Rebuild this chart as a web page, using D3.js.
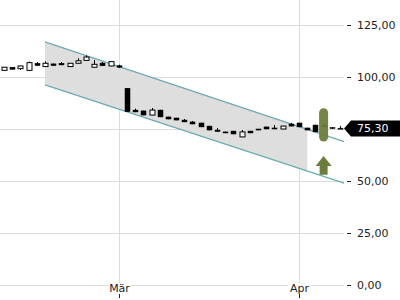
<!DOCTYPE html>
<html>
<head>
<meta charset="utf-8">
<script src="https://cdn.jsdelivr.net/npm/d3@7"></script>
<style>
  body { margin: 0; background: #fff; }
  svg { display: block; font-family: "DejaVu Sans", sans-serif; }
</style>
</head>
<body>
<div id="chart"></div>
<script>
'use strict';

// daily candles, oldest first
const opens  = [103.2, 104.7, 104.0, 103.2, 106.6, 105.0, 106.3, 106.6, 105.0, 106.6, 108.0, 104.7, 106.7, 105.3,
                105.4, 94.6, 84.1, 83.7, 81.7, 84.1, 80.8, 80.3, 79.3, 78.4, 77.9, 76.4, 74.5, 73.6, 74.0, 71.2,
                74.0, 75.0, 76.0, 75.5, 75.0, 77.4, 77.9, 75.5, 76.9, 76.9, 75.7, 75.4];
const highs  = [104.8, 104.8, 105.4, 107.4, 107.2, 107.5, 106.5, 107.2, 106.7, 109.0, 110.4, 108.2, 107.2, 107.5,
                105.9, 94.7, 84.8, 83.8, 85.1, 84.2, 80.9, 80.4, 79.8, 78.8, 78.0, 76.5, 75.5, 73.7, 74.1, 74.5,
                74.1, 75.1, 76.1, 76.9, 76.5, 77.9, 78.0, 75.6, 77.0, 77.9, 75.8, 76.5];
const lows   = [103.1, 103.6, 103.4, 103.1, 105.4, 104.9, 105.4, 105.7, 104.9, 106.5, 107.9, 104.6, 105.3, 105.2,
                104.3, 83.2, 83.1, 81.6, 81.6, 80.7, 79.7, 79.2, 78.3, 77.3, 75.9, 74.4, 73.7, 73.0, 72.5, 71.1,
                73.0, 74.4, 74.9, 74.9, 74.9, 76.3, 75.9, 74.4, 73.5, 75.9, 75.2, 75.2];
const closes = [104.7, 103.7, 105.3, 106.9, 105.5, 106.6, 105.5, 105.8, 106.6, 107.8, 109.6, 106.1, 105.4, 107.4,
                104.7, 83.3, 83.2, 81.7, 84.1, 80.8, 79.8, 79.3, 78.4, 77.4, 76.0, 74.5, 73.8, 73.1, 72.6, 73.6,
                73.1, 74.5, 75.0, 75.0, 76.4, 76.4, 76.0, 74.5, 73.6, 76.0, 75.3, 75.3];

const monthLabels = ["Mär", "Apr"];
const monthStart  = [14, 36];          // candle index of first trading day
const yTicks = [0, 25, 50, 75, 100, 125];
const lastPrice = 75.30;

// trend channel (index, value)
const channelIdx    = [5, 41.5];
const channelTop    = [116.9, 68.9];
const channelBottom = [96.2, 49.0];
const channelShadeEnd = 37;

// signal marker
const signalIdx = 39;
const signalBar = [69, 85];
const signalArrow = [53, 62];

const W = 400, H = 300;
const candles = opens.map((o, i) => ({ i, o, h: highs[i], l: lows[i], c: closes[i] }));

const x = d3.scaleLinear().domain([0, opens.length - 1]).range([4, 340]);
const y = d3.scaleLinear().domain([0, 125]).range([285, 25]);
const fmt = v => d3.format(".2f")(v).replace(".", ",");

const svg = d3.select("#chart").append("svg")
    .attr("width", W)
    .attr("height", H);

// channel shading
const chanVal = (arr, idx) => arr[0] + (arr[1] - arr[0]) * (idx - channelIdx[0]) / (channelIdx[1] - channelIdx[0]);
const shade = [
    [channelIdx[0], channelTop[0]],
    [channelShadeEnd, chanVal(channelTop, channelShadeEnd)],
    [channelShadeEnd, chanVal(channelBottom, channelShadeEnd)],
    [channelIdx[0], channelBottom[0]]
];
svg.append("path")
    .attr("d", d3.line().x(d => x(d[0])).y(d => y(d[1]))(shade) + "Z")
    .attr("fill", "#dedede");

// grid
svg.append("g").selectAll("line")
    .data(yTicks)
    .join("line")
    .attr("x1", 0).attr("x2", 344)
    .attr("y1", d => Math.round(y(d)) + 0.5).attr("y2", d => Math.round(y(d)) + 0.5)
    .attr("stroke", "#dcdcdc");

svg.append("g").selectAll("line")
    .data(monthStart)
    .join("line")
    .attr("x1", d => Math.round(x(d)) + 0.5).attr("x2", d => Math.round(x(d)) + 0.5)
    .attr("y1", 0).attr("y2", 285)
    .attr("stroke", "#dcdcdc");

// channel lines
[channelTop, channelBottom].forEach(arr => {
    svg.append("line")
        .attr("x1", x(channelIdx[0])).attr("y1", y(arr[0]))
        .attr("x2", x(channelIdx[1])).attr("y2", y(arr[1]))
        .attr("stroke", "#6aaab3")
        .attr("stroke-width", 1.2);
});

// candles
const bw = 5;
const cg = svg.append("g");
cg.selectAll("line")
    .data(candles)
    .join("line")
    .attr("x1", d => Math.round(x(d.i)) + 0.5).attr("x2", d => Math.round(x(d.i)) + 0.5)
    .attr("y1", d => y(d.h)).attr("y2", d => y(d.l))
    .attr("stroke", "#000");

cg.selectAll("rect")
    .data(candles)
    .join("rect")
    .attr("x", d => Math.round(x(d.i)) - (bw - 1) / 2)
    .attr("width", bw)
    .attr("y", d => y(Math.max(d.o, d.c)))
    .attr("height", d => Math.max(1, y(Math.min(d.o, d.c)) - y(Math.max(d.o, d.c))))
    .attr("fill", d => d.c > d.o ? "#fff" : "#000")
    .attr("stroke", "#000")
    .attr("stroke-width", d => d.c > d.o ? 1 : 0.5);

// signal marker
const sx = x(signalIdx);
svg.append("rect")
    .attr("x", sx - 4.5).attr("width", 9)
    .attr("y", y(signalBar[1])).attr("height", y(signalBar[0]) - y(signalBar[1]))
    .attr("rx", 4.5)
    .attr("fill", "#6b7d3a")
    .attr("opacity", 0.95);

const aTop = y(signalArrow[1]), aBot = y(signalArrow[0]);
svg.append("path")
    .attr("d", `M${sx},${aTop} L${sx + 8},${aTop + 10} L${sx + 4},${aTop + 10} L${sx + 4},${aBot}
                L${sx - 4},${aBot} L${sx - 4},${aTop + 10} L${sx - 8},${aTop + 10} Z`)
    .attr("fill", "#6b7d3a");

// right axis
const ax = svg.append("g");
ax.selectAll("line")
    .data(yTicks)
    .join("line")
    .attr("x1", 347).attr("x2", 351)
    .attr("y1", d => Math.round(y(d)) + 0.5).attr("y2", d => Math.round(y(d)) + 0.5)
    .attr("stroke", "#222");
ax.selectAll("text")
    .data(yTicks)
    .join("text")
    .attr("x", 357)
    .attr("y", d => y(d))
    .attr("dy", "0.35em")
    .attr("font-size", 11)
    .attr("fill", "#222")
    .text(fmt);

// month labels
const mg = svg.append("g").selectAll("g")
    .data(monthStart)
    .join("g")
    .attr("transform", d => `translate(${Math.round(x(d)) + 0.5},0)`);
mg.append("rect")
    .attr("x", -11).attr("width", 22)
    .attr("y", 283).attr("height", 9)
    .attr("fill", "#fff");
mg.append("text")
    .attr("y", 292)
    .attr("text-anchor", "middle")
    .attr("font-size", 11)
    .attr("fill", "#222")
    .text((d, i) => monthLabels[i]);
mg.append("line")
    .attr("y1", 294).attr("y2", 298)
    .attr("stroke", "#222");

// last price tag
const py = y(lastPrice);
svg.append("path")
    .attr("d", `M344,${py} L351,${py - 8} L400,${py - 8} L400,${py + 8} L351,${py + 8} Z`)
    .attr("fill", "#000");
svg.append("text")
    .attr("x", 357).attr("y", py)
    .attr("dy", "0.35em")
    .attr("font-size", 11)
    .attr("fill", "#fff")
    .text(fmt(lastPrice));
</script>
</body>
</html>
